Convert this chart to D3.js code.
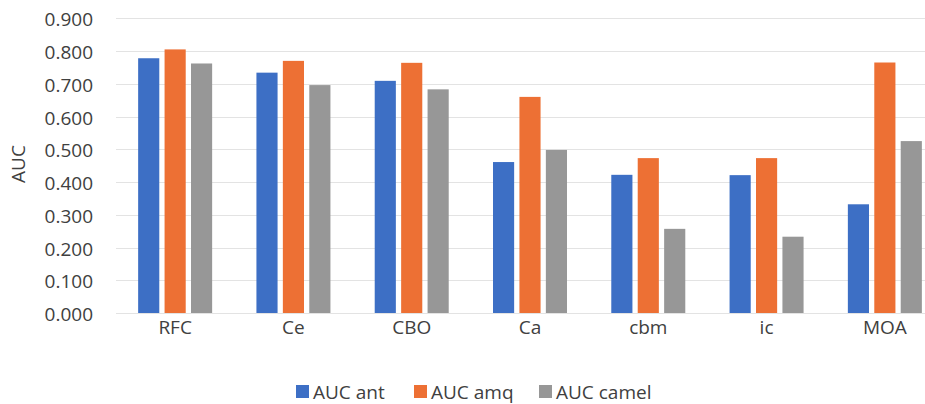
<!DOCTYPE html>
<html><head><meta charset="utf-8">
<script src="https://cdn.jsdelivr.net/npm/d3@7"></script>
<style>body{margin:0;background:#fff;} svg{display:block;}</style>
</head><body>
<svg id="c" width="925" height="404"></svg>
<script>
const categories = ["RFC","Ce","CBO","Ca","cbm","ic","MOA"];
const seriesNames = ["AUC ant","AUC amq","AUC camel"];
const aucAnt   = [0.778,0.734,0.709,0.461,0.422,0.421,0.332];
const aucAmq   = [0.805,0.770,0.764,0.660,0.473,0.473,0.765];
const aucCamel = [0.762,0.696,0.683,0.498,0.257,0.233,0.525];
const yTicks = [0,0.1,0.2,0.3,0.4,0.5,0.6,0.7,0.8,0.9];
const colors = ["#3d6fc5","#ed7034","#979797"];
const seriesVals = [aucAnt, aucAmq, aucCamel];

(function(){
const svg = d3.select("#c");
const font = "'Open Sans', sans-serif";
const fs = 19;
const textColor = "#404040";
const pLeft = 116, pRight = 944, pTop = 18.3, pBottom = 313;

const x = d3.scaleBand().domain(categories).range([pLeft, pRight]).paddingInner(0).paddingOuter(0);
const y = d3.scaleLinear().domain([0, 0.9]).range([pBottom, pTop]);
const inner = d3.scaleBand().domain(seriesNames).range([x.bandwidth()/2 - 37, x.bandwidth()/2 + 37]).paddingInner(0.2);

// gridlines
svg.append("g").selectAll("line").data(yTicks).join("line")
  .attr("x1", pLeft).attr("x2", 925)
  .attr("y1", d => Math.round(y(d)) + 0.5).attr("y2", d => Math.round(y(d)) + 0.5)
  .attr("stroke", "#e3e3e3").attr("stroke-width", 1);

// y axis labels
const yAxis = d3.axisLeft(y).tickValues(yTicks).tickFormat(d3.format(".3f")).tickSize(0).tickPadding(0);
const ya = svg.append("g").attr("transform", "translate(93,0)").call(yAxis);
ya.select(".domain").remove();
ya.selectAll("text").attr("font-family", font).attr("font-size", fs).attr("fill", textColor).attr("dy", "0.4em");

// bars
const groups = svg.append("g").selectAll("g").data(categories).join("g")
  .attr("transform", d => `translate(${x(d)},0)`);
groups.selectAll("rect").data((d, i) => seriesNames.map((s, k) => ({s, v: seriesVals[k][i], k})))
  .join("rect")
  .attr("x", d => inner(d.s)).attr("width", inner.bandwidth())
  .attr("y", d => y(d.v)).attr("height", d => y(0) - y(d.v))
  .attr("fill", d => colors[d.k]);

// x axis labels
const xAxis = d3.axisBottom(x).tickSize(0).tickPadding(0);
const xa = svg.append("g").attr("transform", `translate(0,${pBottom})`).call(xAxis);
xa.select(".domain").remove();
xa.selectAll("text").attr("font-family", font).attr("font-size", fs).attr("fill", textColor).attr("dy", "1.1em");

// y title
svg.append("text").attr("transform", "translate(25,164) rotate(-90)")
  .attr("text-anchor", "middle").attr("font-family", font).attr("font-size", fs).attr("fill", textColor).text("AUC");

// legend
const legendX = [296, 414, 539];
const lg = svg.append("g").selectAll("g").data(seriesNames).join("g")
  .attr("transform", (d, i) => `translate(${legendX[i]},385)`);
lg.append("rect").attr("width", 13).attr("height", 13).attr("fill", (d, i) => colors[i]);
lg.append("text").attr("x", 17).attr("y", 13.5).attr("font-family", font).attr("font-size", fs).attr("fill", textColor).text(d => d);
})();
</script>
</body></html>
